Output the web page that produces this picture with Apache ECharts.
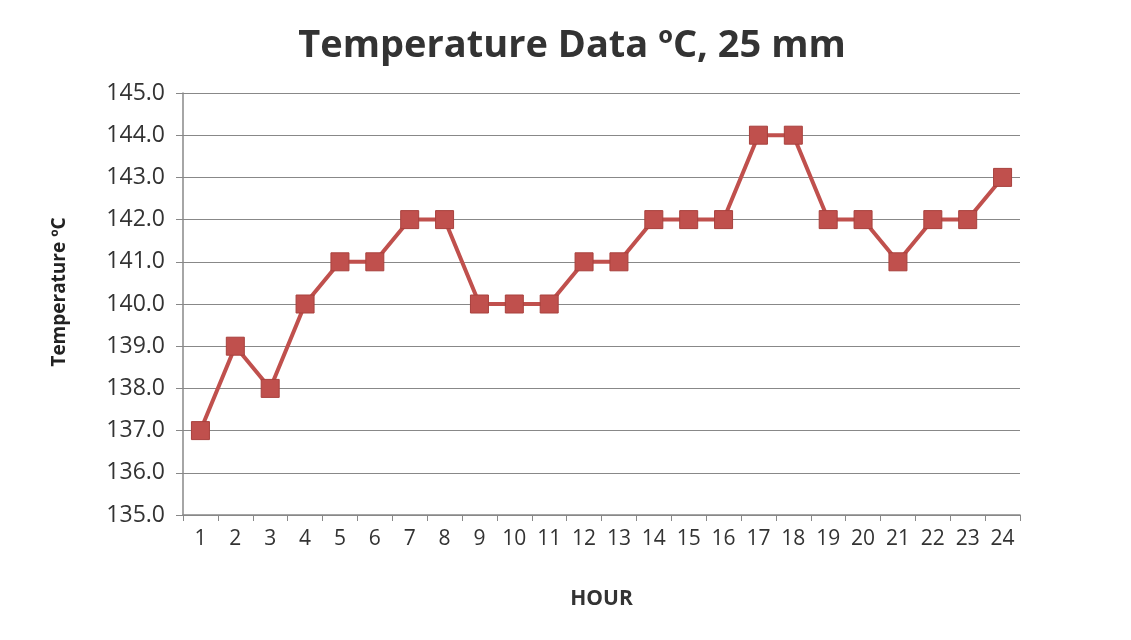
<!DOCTYPE html>
<html>
<head>
<meta charset="utf-8">
<script src="https://cdn.jsdelivr.net/npm/echarts@6/dist/echarts.min.js"></script>
<style>
  html, body { margin: 0; padding: 0; background: #fff; }
  #chart { width: 1131px; height: 640px; }
</style>
</head>
<body>
<div id="chart"></div>
<script>
// hours on the x axis
var hours = ['1','2','3','4','5','6','7','8','9','10','11','12','13','14','15','16','17','18','19','20','21','22','23','24'];
// temperature readings, ºC
var temps = [137, 139, 138, 140, 141, 141, 142, 142, 140, 140, 140, 141, 141, 142, 142, 142, 144, 144, 142, 142, 141, 142, 142, 143];

var myChart = echarts.init(document.getElementById('chart'));
var option = {
  backgroundColor: '#fff',
  title: {
    text: 'Temperature Data ºC, 25 mm',
    left: 567,
    textAlign: 'center',
    top: 22,
    textStyle: { fontFamily: 'Open Sans', fontSize: 38, fontWeight: 'bold', color: '#333' }
  },
  graphic: [
    {
      type: 'text',
      x: 60,
      y: 292,
      rotation: Math.PI / 2,
      style: {
        text: 'Temperature ºC',
        fontFamily: 'Open Sans',
        fontSize: 19,
        fontWeight: 'bold',
        fill: '#222',
        align: 'center',
        verticalAlign: 'middle'
      }
    }
  ],
  grid: { left: 183, right: 111, top: 93, bottom: 125, containLabel: false },
  xAxis: {
    type: 'category',
    data: hours,
    boundaryGap: true,
    name: 'HOUR',
    nameLocation: 'middle',
    nameGap: 74,
    nameTextStyle: { fontFamily: 'Open Sans', fontSize: 21, fontWeight: 'bold', color: '#333' },
    axisLine: { lineStyle: { color: '#888', width: 1.5 } },
    axisTick: { show: true, alignWithLabel: false, length: 6, lineStyle: { color: '#888' } },
    axisLabel: { fontFamily: 'Open Sans', fontSize: 21, color: '#333', margin: 14 }
  },
  yAxis: {
    type: 'value',
    min: 135,
    max: 145,
    interval: 1,
    axisLine: { show: true, lineStyle: { color: '#888', width: 1.5 } },
    axisTick: { show: true, length: 7, lineStyle: { color: '#888' } },
    splitLine: { lineStyle: { color: '#888', width: 1.2 } },
    axisLabel: {
      fontFamily: 'Open Sans', fontSize: 23, color: '#333', margin: 18,
      formatter: function (v) { return v.toFixed(1); }
    }
  },
  series: [
    {
      type: 'line',
      data: temps,
      symbol: 'rect',
      symbolSize: 18,
      lineStyle: { color: '#c0504d', width: 4 },
      itemStyle: { color: '#c0504d', borderColor: '#a8403d', borderWidth: 1 },
      animation: false
    }
  ]
};
myChart.setOption(option);
window.addEventListener('resize', function () { myChart.resize(); });
</script>
</body>
</html>
